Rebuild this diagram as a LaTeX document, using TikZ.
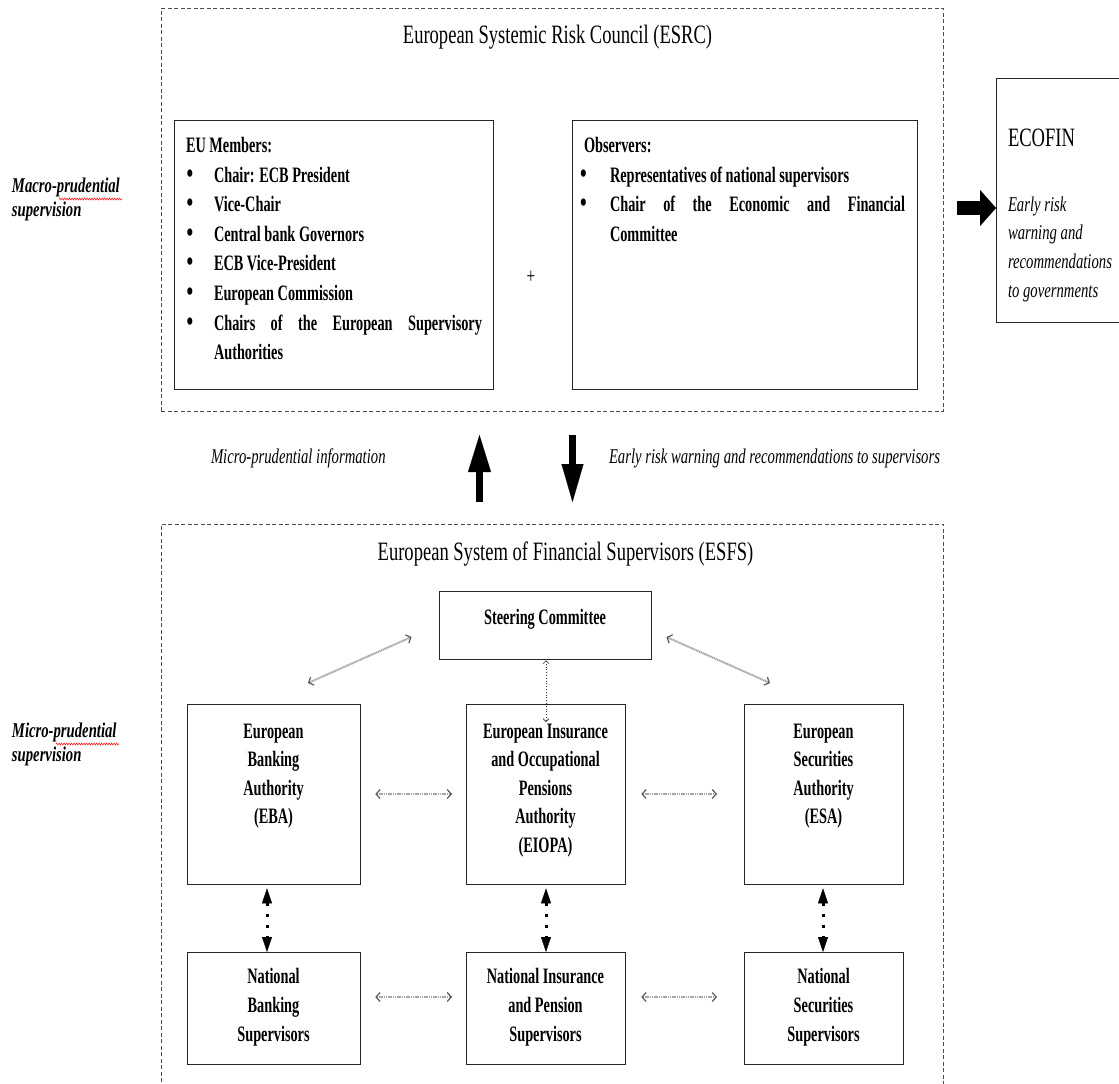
\documentclass[tikz,border=0pt]{standalone}
\usepackage{fontspec}
\setmainfont{Liberation Serif}[FakeStretch=0.7]
\newfontfamily\bxfam{Liberation Serif}[FakeStretch=0.65]
\usetikzlibrary{arrows.meta,decorations.pathmorphing}
\newcommand{\fTitle}{\fontsize{26.5}{30}\selectfont}
\newcommand{\fBox}{\bxfam\bfseries\fontsize{22}{29}\selectfont}
\newcommand{\fIt}{\itshape\fontsize{21}{28}\selectfont}
\newcommand{\fLbl}{\bfseries\itshape\fontsize{21}{25}\selectfont}
\begin{document}
\begin{tikzpicture}[x=1pt,y=-1pt,
  outerbox/.style={draw=black!70, line width=0.9pt, dash pattern=on 4pt off 2.5pt},
  box/.style={draw=black!85, line width=1.3pt, inner sep=0pt, anchor=north west},
  txt/.style={inner sep=0pt, outer sep=0pt},
  bt/.style={txt, font=\fBox},
  bul/.style={txt, font=\bfseries\fontsize{27}{29}\selectfont},
  garrow/.style={draw=gray!70, line width=2pt, dash pattern=on 1.2pt off 0.6pt,
     >={Straight Barb[length=4pt,width=9pt,line width=1.2pt,color=black!65]}, <->},
  tdash/.style={draw=black, line width=3pt, dash pattern=on 3pt off 8pt,
     >={Triangle[length=15pt,width=10pt,line width=0.4pt]}, <->},
  dotarrow/.style={draw=black!80, line width=0.8pt, dotted,
     >={Straight Barb[length=3pt,width=6pt,line width=0.6pt]}, <->},
  squig/.style={draw=red, line width=0.5pt, decorate,
     decoration={zigzag, amplitude=1pt, segment length=2.5pt}}]
\useasboundingbox (0,0) rectangle (1119,1084);
\fill[white] (0,0) rectangle (1119,1084);

% ---------- ESRC ----------
\node[outerbox, inner sep=0pt, minimum width=782pt, minimum height=403pt, anchor=north west] (esrc) at (161,8) {};
\node[txt, anchor=base, font=\fTitle] (esrcT) at (557.5,43) {European Systemic Risk Council (ESRC)};

\node[box, minimum width=319pt, minimum height=269pt] (eu) at (174,120) {};
\node[bt, anchor=base west] (euT) at (186,152.5) {EU Members:};
\foreach \t [count=\i] in {Chair: ECB President, Vice-Chair, Central bank Governors, ECB Vice-President, European Commission}{
  \node[bul, anchor=base] (eub\i) at (190,152.5+29.6*\i) {•};
  \node[bt, anchor=base west] (eui\i) at (214,152.5+29.6*\i) {\t};
}
\node[bul, anchor=base] (eub6) at (190,330.1) {•};
\node[bt, anchor=base west] (eui6) at (214,330.1) {\makebox[268pt][s]{Chairs of the European Supervisory}};
\node[bt, anchor=base west] (eui7) at (214,359.7) {Authorities};

\node[txt, font=\fontsize{22}{24}\selectfont] (plus) at (531,277) {+};

\node[box, minimum width=345pt, minimum height=269pt] (obs) at (572,120) {};
\node[bt, anchor=base west] (obsT) at (584,152.5) {Observers:};
\node[bul, anchor=base] (obb1) at (583.5,182.1) {•};
\node[bt, anchor=base west] (obi1) at (610,182.1) {Representatives of national supervisors};
\node[bul, anchor=base] (obb2) at (583.5,211.7) {•};
\node[bt, anchor=base west] (obi2) at (610,211.7) {\makebox[295pt][s]{Chair of the Economic and Financial}};
\node[bt, anchor=base west] (obi3) at (610,241.3) {Committee};

% ---------- ECOFIN ----------
\node[box, minimum width=160pt, minimum height=244pt] (ecofin) at (996,78) {};
\node[txt, anchor=base west, font=\fTitle] (ecoT) at (1008,146) {ECOFIN};
\foreach \t [count=\i] in {Early risk, warning and, recommendations, to governments}{
  \node[txt, anchor=base west, font=\fIt] (eco\i) at (1008,182.3+28.7*\i) {\t};
}
\coordinate (ecoS) at (957,208);
\draw[line width=14pt, -{Triangle[length=16pt,width=36pt,line width=0.1pt]}] (ecoS) -- (ecofin.west |- ecoS);

% ---------- side labels ----------
\node[txt, anchor=base west, font=\fLbl] (mac1) at (12,192) {Macro-prudential};
\node[txt, anchor=base west, font=\fLbl] (mac2) at (12,216) {supervision};
\draw[squig] (59,199) -- (122,199);
\node[txt, anchor=base west, font=\fLbl] (mic1) at (12,737) {Micro-prudential};
\node[txt, anchor=base west, font=\fLbl] (mic2) at (12,761) {supervision};
\draw[squig] (56,744) -- (119,744);

% ---------- middle ----------
\node[txt, anchor=base west, font=\fIt] (mpi) at (211,463) {Micro-prudential information};
\node[txt, anchor=base west, font=\fIt] (erw) at (609,463) {Early risk warning and recommendations to supervisors};
\coordinate (upA) at (479.5,502);
\coordinate (upB) at (479.5,435);
\draw[line width=7pt, -{Triangle[length=37pt,width=23pt,line width=0.1pt]}] (upA) -- (upB);
\coordinate (dnA) at (572.5,435);
\coordinate (dnB) at (572.5,502);
\draw[line width=7pt, -{Triangle[length=38pt,width=22pt,line width=0.1pt]}] (dnA) -- (dnB);

% ---------- ESFS ----------
\node[inner sep=0pt, minimum width=782pt, minimum height=571pt, anchor=north west] (esfs) at (161,524) {};
\draw[outerbox] (esfs.south west) -- (esfs.north west) -- (esfs.north east) -- (esfs.south east);
\node[txt, anchor=base, font=\fTitle] (esfsT) at (565.5,560) {European System of Financial Supervisors (ESFS)};

\node[box, minimum width=212pt, minimum height=68pt] (steer) at (439,591) {};
\node[bt, anchor=base] (steerT) at (545,624) {Steering Committee};

\node[box, minimum width=173pt, minimum height=180pt] (eba) at (187,704) {};
\node[box, minimum width=159pt, minimum height=180pt] (eiopa) at (466,704) {};
\node[box, minimum width=159pt, minimum height=180pt] (esa) at (744,704) {};
\node[box, minimum width=173pt, minimum height=112pt] (nba) at (187,952) {};
\node[box, minimum width=159pt, minimum height=112pt] (nip) at (466,952) {};
\node[box, minimum width=159pt, minimum height=112pt] (nss) at (744,952) {};

\foreach \t [count=\i] in {European, Banking, Authority, (EBA)}{
  \node[bt, anchor=base] (ebaT\i) at (273.5,709.5+28.5*\i) {\t};
}
\foreach \t [count=\i] in {European Insurance, and Occupational, Pensions, Authority, (EIOPA)}{
  \node[bt, anchor=base] (eiopaT\i) at (545.5,709.5+28.5*\i) {\t};
}
\foreach \t [count=\i] in {European, Securities, Authority, (ESA)}{
  \node[bt, anchor=base] (esaT\i) at (823.5,709.5+28.5*\i) {\t};
}
\foreach \t [count=\i] in {National, Banking, Supervisors}{
  \node[bt, anchor=base] (nbaT\i) at (273.5,954+29*\i) {\t};
}
\foreach \t [count=\i] in {National Insurance, and Pension, Supervisors}{
  \node[bt, anchor=base] (nipT\i) at (545.5,954+29*\i) {\t};
}
\foreach \t [count=\i] in {National, Securities, Supervisors}{
  \node[bt, anchor=base] (nssT\i) at (823.5,954+29*\i) {\t};
}

% connectors
\coordinate (dgl1) at (411.5,637);
\coordinate (dgl2) at (308,683);
\coordinate (dgr1) at (666.5,637);
\coordinate (dgr2) at (770,683);
\draw[garrow] (dgl1) -- (dgl2);
\draw[garrow] (dgr1) -- (dgr2);

\draw[garrow, shorten <=14pt, shorten >=14pt] (eba.east |- 0,794) -- (eiopa.west |- 0,794);
\draw[garrow, shorten <=15pt, shorten >=27pt] (eiopa.east |- 0,794) -- (esa.west |- 0,794);
\draw[garrow, shorten <=14pt, shorten >=14pt] (nba.east |- 0,997) -- (nip.west |- 0,997);
\draw[garrow, shorten <=15pt, shorten >=27pt] (nip.east |- 0,997) -- (nss.west |- 0,997);

\coordinate (dotEnd) at (546,722);
\draw[dotarrow] (546,0 |- steer.south) -- (dotEnd);

\draw[tdash, shorten <=3pt] (267,0 |- eba.south) -- (267,0 |- nba.north);
\draw[tdash, shorten <=3pt] (546,0 |- eiopa.south) -- (546,0 |- nip.north);
\draw[tdash, shorten <=3pt] (823,0 |- esa.south) -- (823,0 |- nss.north);
\end{tikzpicture}
\end{document}
